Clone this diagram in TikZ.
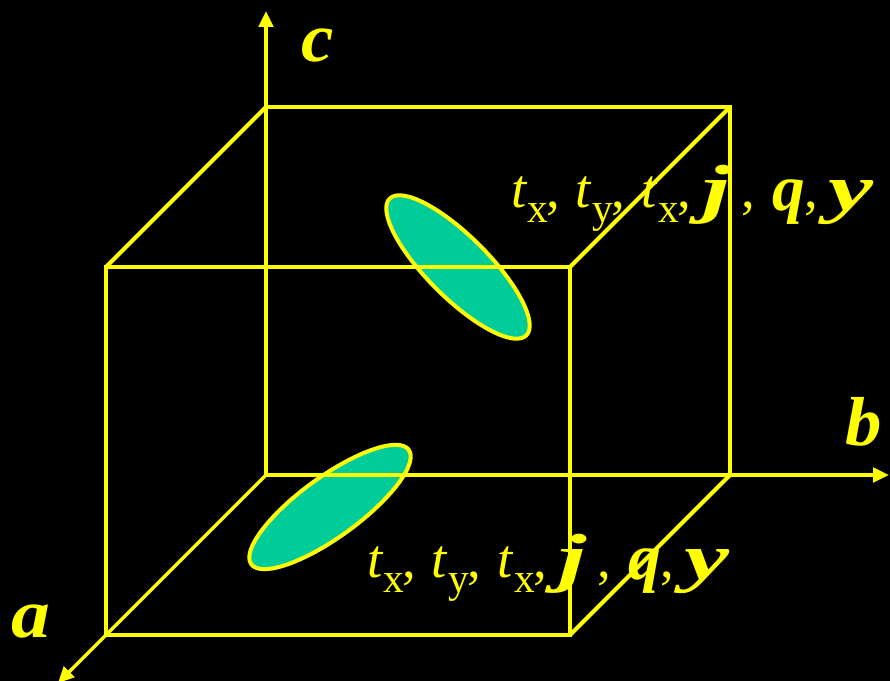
\documentclass[tikz,border=0pt]{standalone}
\usepackage{fontspec}
\usepackage{graphicx}
\setmainfont{Liberation Serif}
\usetikzlibrary{arrows.meta,shapes.geometric}
\definecolor{ylw}{RGB}{255,255,0}
\definecolor{grn}{RGB}{0,204,153}
\newcommand{\at}[2]{\rlap{\kern#1\dimexpr0.75pt\relax #2}}
\newcommand{\sm}[1]{{\fontsize{41}{41}\selectfont\itshape #1}}
\newcommand{\sbs}[1]{\raisebox{-11.25pt}{\fontsize{31}{31}\selectfont\upshape #1}}
\newcommand{\bg}[1]{\raisebox{-2pt}{\fontsize{49}{49}\selectfont\bfseries\itshape #1}}
\newcommand{\bgw}[1]{\scalebox{1.55}[1]{\bg{#1}}}
\newcommand{\cmm}{{\fontsize{41}{41}\selectfont\upshape ,}}
\newcommand{\rowtext}{%
\at{0}{\sm{t}}\at{16}{\sbs{x}}\at{35}{\cmm}%
\at{64}{\sm{t}}\at{81}{\sbs{y}}\at{100}{\cmm}%
\at{130}{\sm{t}}\at{147}{\sbs{x}}\at{166}{\cmm}%
\at{191}{\bgw{j}}\at{230}{\cmm}\at{261}{\bg{q}}\at{293}{\cmm}\at{317}{\bgw{y}}}
\tikzset{
 edge/.style={draw=ylw,line width=3pt},
 axis/.style={draw=ylw,line width=2.6pt,-{Stealth[length=12pt,width=11pt,inset=0pt]}},
 blob/.style={draw=ylw,line width=3pt,fill=grn,ellipse,inner sep=0pt},
 lab/.style={text=ylw,anchor=base west,inner sep=0pt,outer sep=0pt},
 axl/.style={text=ylw,anchor=base west,inner sep=0pt,outer sep=0pt,font=\fontsize{52}{52}\selectfont\bfseries\itshape}
}
\begin{document}
\begin{tikzpicture}[x=0.75pt,y=-0.75pt]
\useasboundingbox (0,0) rectangle (890,681);
\clip (0,0) rectangle (890,681);
\fill[black] (0,0) rectangle (890,681);
\node[blob,minimum width=145pt,minimum height=46pt,rotate=-45] (e1) at (458,267) {};
\node[blob,minimum width=146pt,minimum height=45pt,rotate=36] (e2) at (330,507) {};
\coordinate (O) at (266,475);
\coordinate (A) at (106,635);
\coordinate (B) at (730,475);
\coordinate (C) at (266,107);
\coordinate (AB) at (570,635);
\coordinate (AC) at (106,267);
\coordinate (BC) at (730,107);
\coordinate (ABC) at (570,267);
\coordinate (ax) at (58,683);
\coordinate (bx) at (889,475);
\coordinate (cx) at (266,11);
\draw[edge,line join=miter] (A) -- (AB) -- (ABC) -- (AC) -- cycle;
\draw[edge] (C) -- (BC) -- (B);
\draw[edge] (AC) -- (C);
\draw[edge] (ABC) -- (BC);
\draw[edge] (AB) -- (B);
\draw[axis] (O) -- (ax);
\draw[axis] (O) -- (bx);
\draw[axis] (O) -- (cx);
\node[axl] (lc) at (301,62) {\scalebox{1.05}[1]{c}};
\node[axl] (lb) at (845,445) {\scalebox{1.05}[1]{b}};
\node[axl] (la) at (12,637) {\scalebox{1.12}[1]{a}};
\node[lab,minimum width=0pt] (t1) at (511,208) {\rowtext};
\node[lab,minimum width=0pt] (t2) at (367,577) {\rowtext};
\end{tikzpicture}
\end{document}
